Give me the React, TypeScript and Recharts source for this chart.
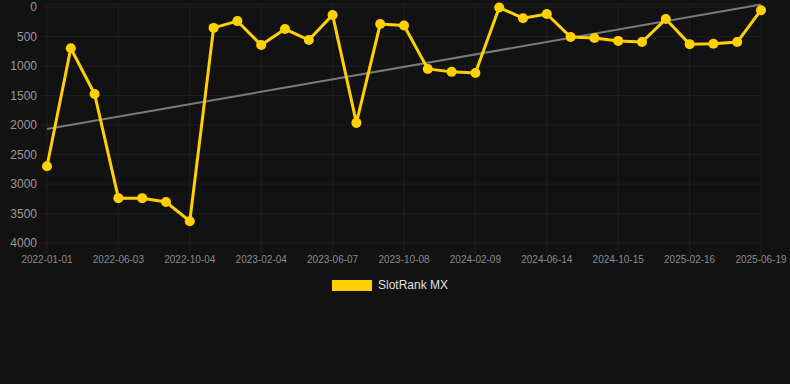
import React from "react";
import {
  CartesianGrid,
  Legend,
  Line,
  LineChart,
  XAxis,
  YAxis,
} from "recharts";

// dates for every point; only every third one is shown on the axis
const dates = [
  "2022-01-01", "2022-02-21", "2022-04-13", "2022-06-03", "2022-07-14", "2022-08-24",
  "2022-10-04", "2022-11-14", "2022-12-25", "2023-02-04", "2023-03-17", "2023-04-27",
  "2023-06-07", "2023-07-18", "2023-08-28", "2023-10-08", "2023-11-18", "2023-12-29",
  "2024-02-09", "2024-03-21", "2024-05-03", "2024-06-14", "2024-07-25", "2024-09-04",
  "2024-10-15", "2024-11-25", "2025-01-06", "2025-02-16", "2025-03-29", "2025-05-09",
  "2025-06-19",
];

const rank = [
  2700, 700, 1475, 3240, 3240, 3305, 3630, 355, 240, 645, 375, 560, 135, 1965, 290,
  315, 1050, 1100, 1120, 10, 190, 120, 510, 525, 575, 595, 205, 630, 625, 595, 55,
];

// trend line end points only
const trend: Array<number | null> = dates.map(() => null);
trend[0] = 2070;
trend[dates.length - 1] = -40;

const yTicks = [0, 500, 1000, 1500, 2000, 2500, 3000, 3500, 4000];

const data = dates.map((date, i) => ({ date, rank: rank[i], trend: trend[i] }));

const GRID = "#1f1f1f";

function LegendBox() {
  return (
    <div style={{ display: "flex", justifyContent: "center", alignItems: "center", paddingLeft: 12, paddingTop: 5 }}>
      <span style={{ display: "inline-block", width: 40, height: 11, background: "#ffd100", marginRight: 6 }} />
      <span style={{ color: "#e0e0e0", fontSize: 12, fontFamily: "Liberation Sans, Arial, sans-serif" }}>
        SlotRank MX
      </span>
    </div>
  );
}

export default function App() {
  return (
    <div style={{ position: "absolute", left: 0, top: 0, width: 790, height: 384, background: "#121212" }}>
      <LineChart
        width={790}
        height={384}
        data={data}
        margin={{ top: 4, right: 29, left: 7, bottom: 89 }}
        style={{ fontFamily: "Liberation Sans, Arial, sans-serif" }}
      >
        <CartesianGrid stroke={GRID} strokeWidth={1} />
        <XAxis
          dataKey="date"
          interval={2}
          height={30}
          tickLine={{ stroke: GRID }}
          tickSize={12}
          axisLine={false}
          tickMargin={1}
          tick={{ fill: "#8a8a8a", fontSize: 10 }}
        />
        <YAxis
          reversed
          width={40}
          domain={[-50, 4000]}
          ticks={yTicks}
          interval={0}
          tickLine={{ stroke: GRID }}
          axisLine={false}
          tickMargin={4}
          tick={{ fill: "#9a9a9a", fontSize: 12 }}
        />
        <Legend verticalAlign="bottom" height={22} content={() => <LegendBox />} />
        <Line
          dataKey="trend"
          stroke="#7a7a7a"
          strokeWidth={2}
          dot={false}
          connectNulls
          legendType="none"
          isAnimationActive={false}
        />
        <Line
          dataKey="rank"
          name="SlotRank MX"
          stroke="#ffd100"
          strokeWidth={3}
          dot={{ r: 5, fill: "#ffd100", stroke: "#ffd100", strokeWidth: 0 }}
          activeDot={false}
          isAnimationActive={false}
        />
      </LineChart>
    </div>
  );
}
